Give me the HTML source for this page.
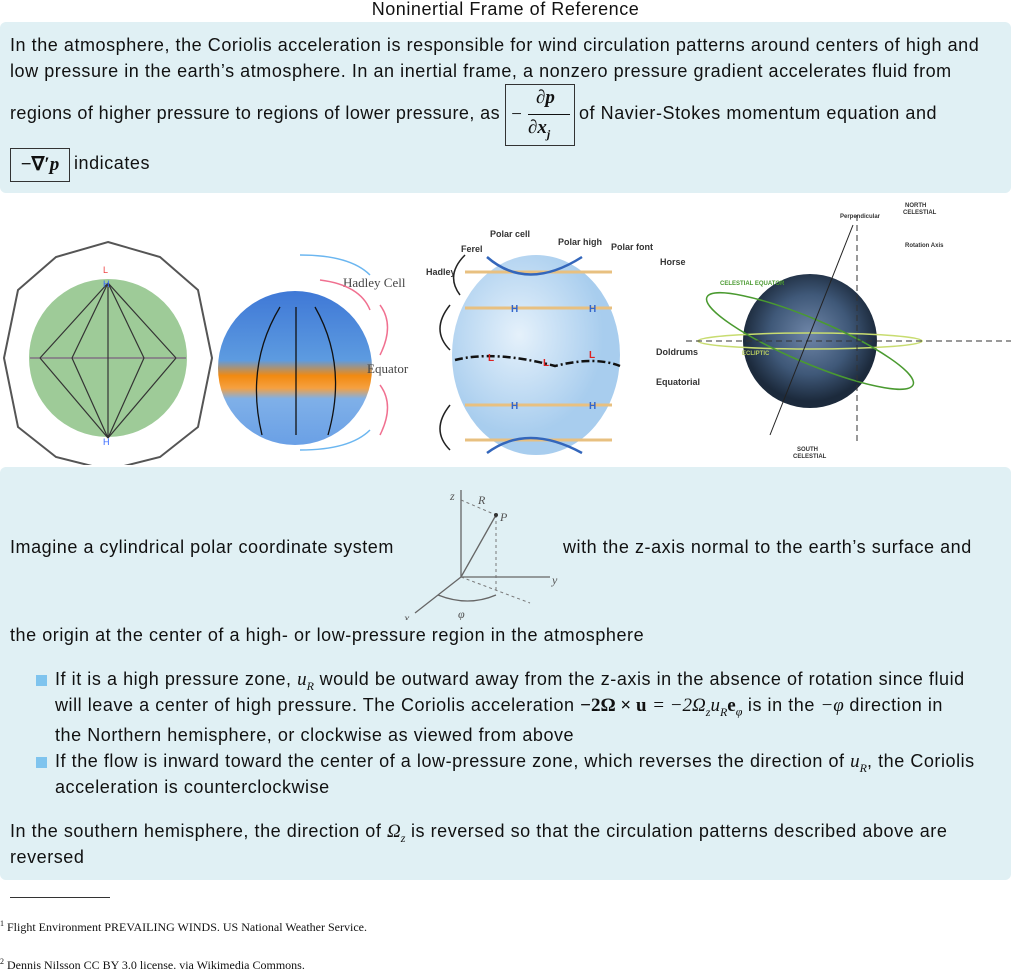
<!DOCTYPE html>
<html><head><meta charset="utf-8"><style>
body{margin:0;width:1011px;height:969px;background:#fff;font-family:"Liberation Sans",sans-serif;color:#111;position:relative;overflow:hidden}
.t{position:absolute;white-space:nowrap;font-size:18px;letter-spacing:0.55px}
.box{position:absolute;left:0;width:1011px;background:#e0f0f4;border-radius:6px}
.m{font-family:"Liberation Serif",serif;font-style:italic;font-size:19px;letter-spacing:0}
.b{font-family:"Liberation Serif",serif;font-weight:bold;font-size:19px;letter-spacing:0}
.sq{position:absolute;width:11px;height:11px;background:#7fc4ee}
.fn{position:absolute;font-family:"Liberation Serif",serif;font-size:12px;white-space:nowrap}
</style></head><body>
<div class="t" style="left:0;width:1011px;text-align:center;top:-1px">Noninertial Frame of Reference</div>
<div class="box" style="top:22px;height:171px"></div>
<div class="t" style="left:10px;top:35px">In the atmosphere, the Coriolis acceleration is responsible for wind circulation patterns around centers of high and</div>
<div class="t" style="left:10px;top:61px">low pressure in the earth’s atmosphere. In an inertial frame, a nonzero pressure gradient accelerates fluid from</div>
<div class="t" style="left:10px;top:103px;letter-spacing:0.42px">regions of higher pressure to regions of lower pressure, as</div>
<div style="position:absolute;left:505px;top:84px;width:68px;height:60px;border:1px solid #333;font-family:'Liberation Serif',serif;font-style:italic;font-size:19px">
<span style="position:absolute;left:4px;top:19px">−</span><span style="position:absolute;left:30px;top:2px;font-weight:bold">∂p</span><div style="position:absolute;left:22px;top:29px;width:42px;border-top:1px solid #111"></div><span style="position:absolute;left:22px;top:32px;font-weight:bold">∂x<sub style="font-size:12px">j</sub></span></div>
<div class="t" style="left:579px;top:103px">of Navier-Stokes momentum equation and</div>
<div style="position:absolute;left:10px;top:148px;width:58px;height:32px;border:1px solid #333;font-family:'Liberation Serif',serif;font-size:19px;line-height:32px;text-align:center"><b>−∇′<i>p</i></b></div>
<div class="t" style="left:74px;top:153px">indicates</div>

<svg style="position:absolute;left:0;top:195px" width="1011" height="270">
<defs><linearGradient id="bg2" x1="0" y1="0" x2="0" y2="1"><stop offset="0" stop-color="#3f78d6"/><stop offset=".45" stop-color="#5d9be0"/><stop offset=".55" stop-color="#f28a10"/><stop offset=".63" stop-color="#f5a040"/><stop offset=".7" stop-color="#7fb0e8"/><stop offset="1" stop-color="#6aa0e6"/></linearGradient>
<radialGradient id="g3" cx=".4" cy=".4"><stop offset="0" stop-color="#e5f1fb"/><stop offset="1" stop-color="#a8cdee"/></radialGradient>
<radialGradient id="g4" cx=".5" cy=".45"><stop offset="0" stop-color="#6f86a8"/><stop offset=".6" stop-color="#3f5878"/><stop offset="1" stop-color="#1c2a3c"/></radialGradient></defs>
<g>
<polygon points="108,47 160,62 198,95 212,163 198,232 160,262 108,275 56,262 18,232 4,163 18,95 56,62" fill="none" stroke="#555" stroke-width="2"/>
<circle cx="108" cy="163" r="79" fill="#9ecb98"/>
<line x1="30" y1="163" x2="186" y2="163" stroke="#888" stroke-width="2"/>
<g stroke="#333" stroke-width="1.2"><line x1="108" y1="88" x2="40" y2="163"/><line x1="108" y1="88" x2="72" y2="163"/><line x1="108" y1="88" x2="108" y2="163"/><line x1="108" y1="88" x2="144" y2="163"/><line x1="108" y1="88" x2="176" y2="163"/><line x1="108" y1="243" x2="40" y2="163"/><line x1="108" y1="243" x2="72" y2="163"/><line x1="108" y1="243" x2="108" y2="163"/><line x1="108" y1="243" x2="144" y2="163"/><line x1="108" y1="243" x2="176" y2="163"/></g>
<text x="103" y="92" font-size="9" fill="#36f">H</text><text x="103" y="250" font-size="9" fill="#36f">H</text><text x="103" y="78" font-size="9" fill="#e44">L</text>
</g>
<g>
<circle cx="295" cy="173" r="77" fill="url(#bg2)"/>
<g stroke="#111" fill="none" stroke-width="1.3"><path d="M280,112 Q245,170 262,240"/><line x1="296" y1="112" x2="296" y2="240"/><path d="M315,112 Q348,170 328,240"/></g>
<text x="343" y="92" font-family="Liberation Serif" font-size="13" fill="#444">Hadley Cell</text>
<text x="367" y="178" font-family="Liberation Serif" font-size="13" fill="#444">Equator</text>
<path d="M320,85 q40,5 50,30 M380,110 q15,20 0,50 M380,190 q15,20 0,50" stroke="#f07090" fill="none" stroke-width="1.5"/>
<path d="M300,60 q50,0 70,20 M300,255 q50,0 70,-20" stroke="#6bb6f0" fill="none" stroke-width="1.5"/>
</g>
<g>
<ellipse cx="536" cy="160" rx="84" ry="100" fill="url(#g3)"/>
<g stroke="#e8c080" stroke-width="3"><line x1="465" y1="77" x2="612" y2="77"/><line x1="465" y1="113" x2="612" y2="113"/><line x1="465" y1="210" x2="612" y2="210"/><line x1="465" y1="245" x2="612" y2="245"/></g>
<path d="M455,165 q40,-10 100,6 q40,-10 65,0" stroke="#111" stroke-width="2.5" stroke-dasharray="8,3,2,3" fill="none"/>
<path d="M487,62 q40,35 95,0 M487,258 q40,-30 95,0" stroke="#3366bb" stroke-width="2.5" fill="none"/>
<g font-size="9" font-weight="bold" fill="#333"><text x="461" y="57">Ferel</text><text x="426" y="80">Hadley</text><text x="490" y="42">Polar cell</text><text x="558" y="50">Polar high</text><text x="611" y="55">Polar font</text><text x="660" y="70">Horse</text><text x="656" y="160">Doldrums</text><text x="656" y="190">Equatorial</text></g>
<g font-size="10" font-weight="bold" fill="#36c"><text x="511" y="117">H</text><text x="589" y="117">H</text><text x="511" y="214">H</text><text x="589" y="214">H</text></g>
<g font-size="10" font-weight="bold" fill="#d22"><text x="488" y="166">L</text><text x="543" y="171">L</text><text x="589" y="163">L</text></g>
<g stroke="#222" fill="none" stroke-width="1.5"><path d="M450,110 q-20,25 0,45 M450,210 q-20,25 0,45 M465,60 q-20,20 -5,40"/></g>
</g>
<g>
<circle cx="810" cy="146" r="67" fill="url(#g4)"/>
<ellipse cx="810" cy="146" rx="112" ry="8" fill="none" stroke="#c8dc70" stroke-width="1.5"/>
<ellipse cx="810" cy="146" rx="112" ry="22" transform="rotate(23 810 146)" fill="none" stroke="#4a9a30" stroke-width="1.5"/>
<line x1="686" y1="146" x2="1011" y2="146" stroke="#333" stroke-dasharray="6,4"/>
<line x1="857" y1="20" x2="857" y2="250" stroke="#333" stroke-dasharray="6,4"/>
<line x1="770" y1="240" x2="853" y2="30" stroke="#222"/>
<g font-size="6" font-weight="bold" fill="#333"><text x="905" y="12">NORTH</text><text x="903" y="19">CELESTIAL</text><text x="840" y="23">Perpendicular</text><text x="905" y="52">Rotation Axis</text><text x="797" y="256">SOUTH</text><text x="793" y="263">CELESTIAL</text><text x="720" y="90" fill="#4a9a30">CELESTIAL EQUATOR</text><text x="742" y="160" fill="#b8cc60">ECLIPTIC</text></g>
</g>
</svg>

<div class="box" style="top:467px;height:413px"></div>
<svg style="position:absolute;left:400px;top:480px" width="160" height="140">
<g stroke="#666" stroke-width="1.3" fill="none"><line x1="61" y1="97" x2="61" y2="10"/><line x1="61" y1="97" x2="150" y2="97"/><line x1="61" y1="97" x2="15" y2="133"/><line x1="61" y1="97" x2="96" y2="35"/><path d="M38,115 q30,12 58,0"/></g>
<g stroke="#777" stroke-dasharray="3,3" fill="none"><line x1="61" y1="20" x2="96" y2="35"/><line x1="96" y1="35" x2="96" y2="110"/><line x1="61" y1="97" x2="130" y2="123"/></g>
<circle cx="96" cy="35" r="2" fill="#333"/>
<g font-family="Liberation Serif" font-style="italic" font-size="12" fill="#555"><text x="50" y="20">z</text><text x="78" y="24">R</text><text x="100" y="41">P</text><text x="152" y="104">y</text><text x="4" y="142">x</text><text x="58" y="138">φ</text></g>
</svg>
<div class="t" style="left:10px;top:537px">Imagine a cylindrical polar coordinate system</div>
<div class="t" style="left:563px;top:537px">with the z-axis normal to the earth’s surface and</div>
<div class="t" style="left:10px;top:625px">the origin at the center of a high- or low-pressure region in the atmosphere</div>
<div class="sq" style="left:36px;top:675px"></div>
<div class="t" style="left:55px;top:669px">If it is a high pressure zone, <span class="m">u<sub style="font-size:12px">R</sub></span> would be outward away from the z-axis in the absence of rotation since fluid</div>
<div class="t" style="left:55px;top:695px">will leave a center of high pressure. The Coriolis acceleration <span class="b">−2Ω × u</span> <span class="m">= −2Ω<sub style="font-size:12px">z</sub>u<sub style="font-size:12px">R</sub></span><span class="b">e</span><sub class="m" style="font-size:12px">φ</sub> is in the <span class="m">−φ</span> direction in</div>
<div class="t" style="left:55px;top:725px">the Northern hemisphere, or clockwise as viewed from above</div>
<div class="sq" style="left:36px;top:757px"></div>
<div class="t" style="left:55px;top:751px">If the flow is inward toward the center of a low-pressure zone, which reverses the direction of <span class="m">u<sub style="font-size:12px">R</sub></span>, the Coriolis</div>
<div class="t" style="left:55px;top:777px">acceleration is counterclockwise</div>
<div class="t" style="left:10px;top:821px">In the southern hemisphere, the direction of <span class="m">Ω<sub style="font-size:12px">z</sub></span> is reversed so that the circulation patterns described above are</div>
<div class="t" style="left:10px;top:847px">reversed</div>
<div style="position:absolute;left:10px;top:897px;width:100px;border-top:1px solid #333"></div>
<div class="fn" style="left:0px;top:919px"><sup style="font-size:8px">1</sup> Flight Environment PREVAILING WINDS. US National Weather Service.</div>
<div class="fn" style="left:0px;top:957px"><sup style="font-size:8px">2</sup> Dennis Nilsson CC BY 3.0 license. via Wikimedia Commons.</div>
</body></html>
